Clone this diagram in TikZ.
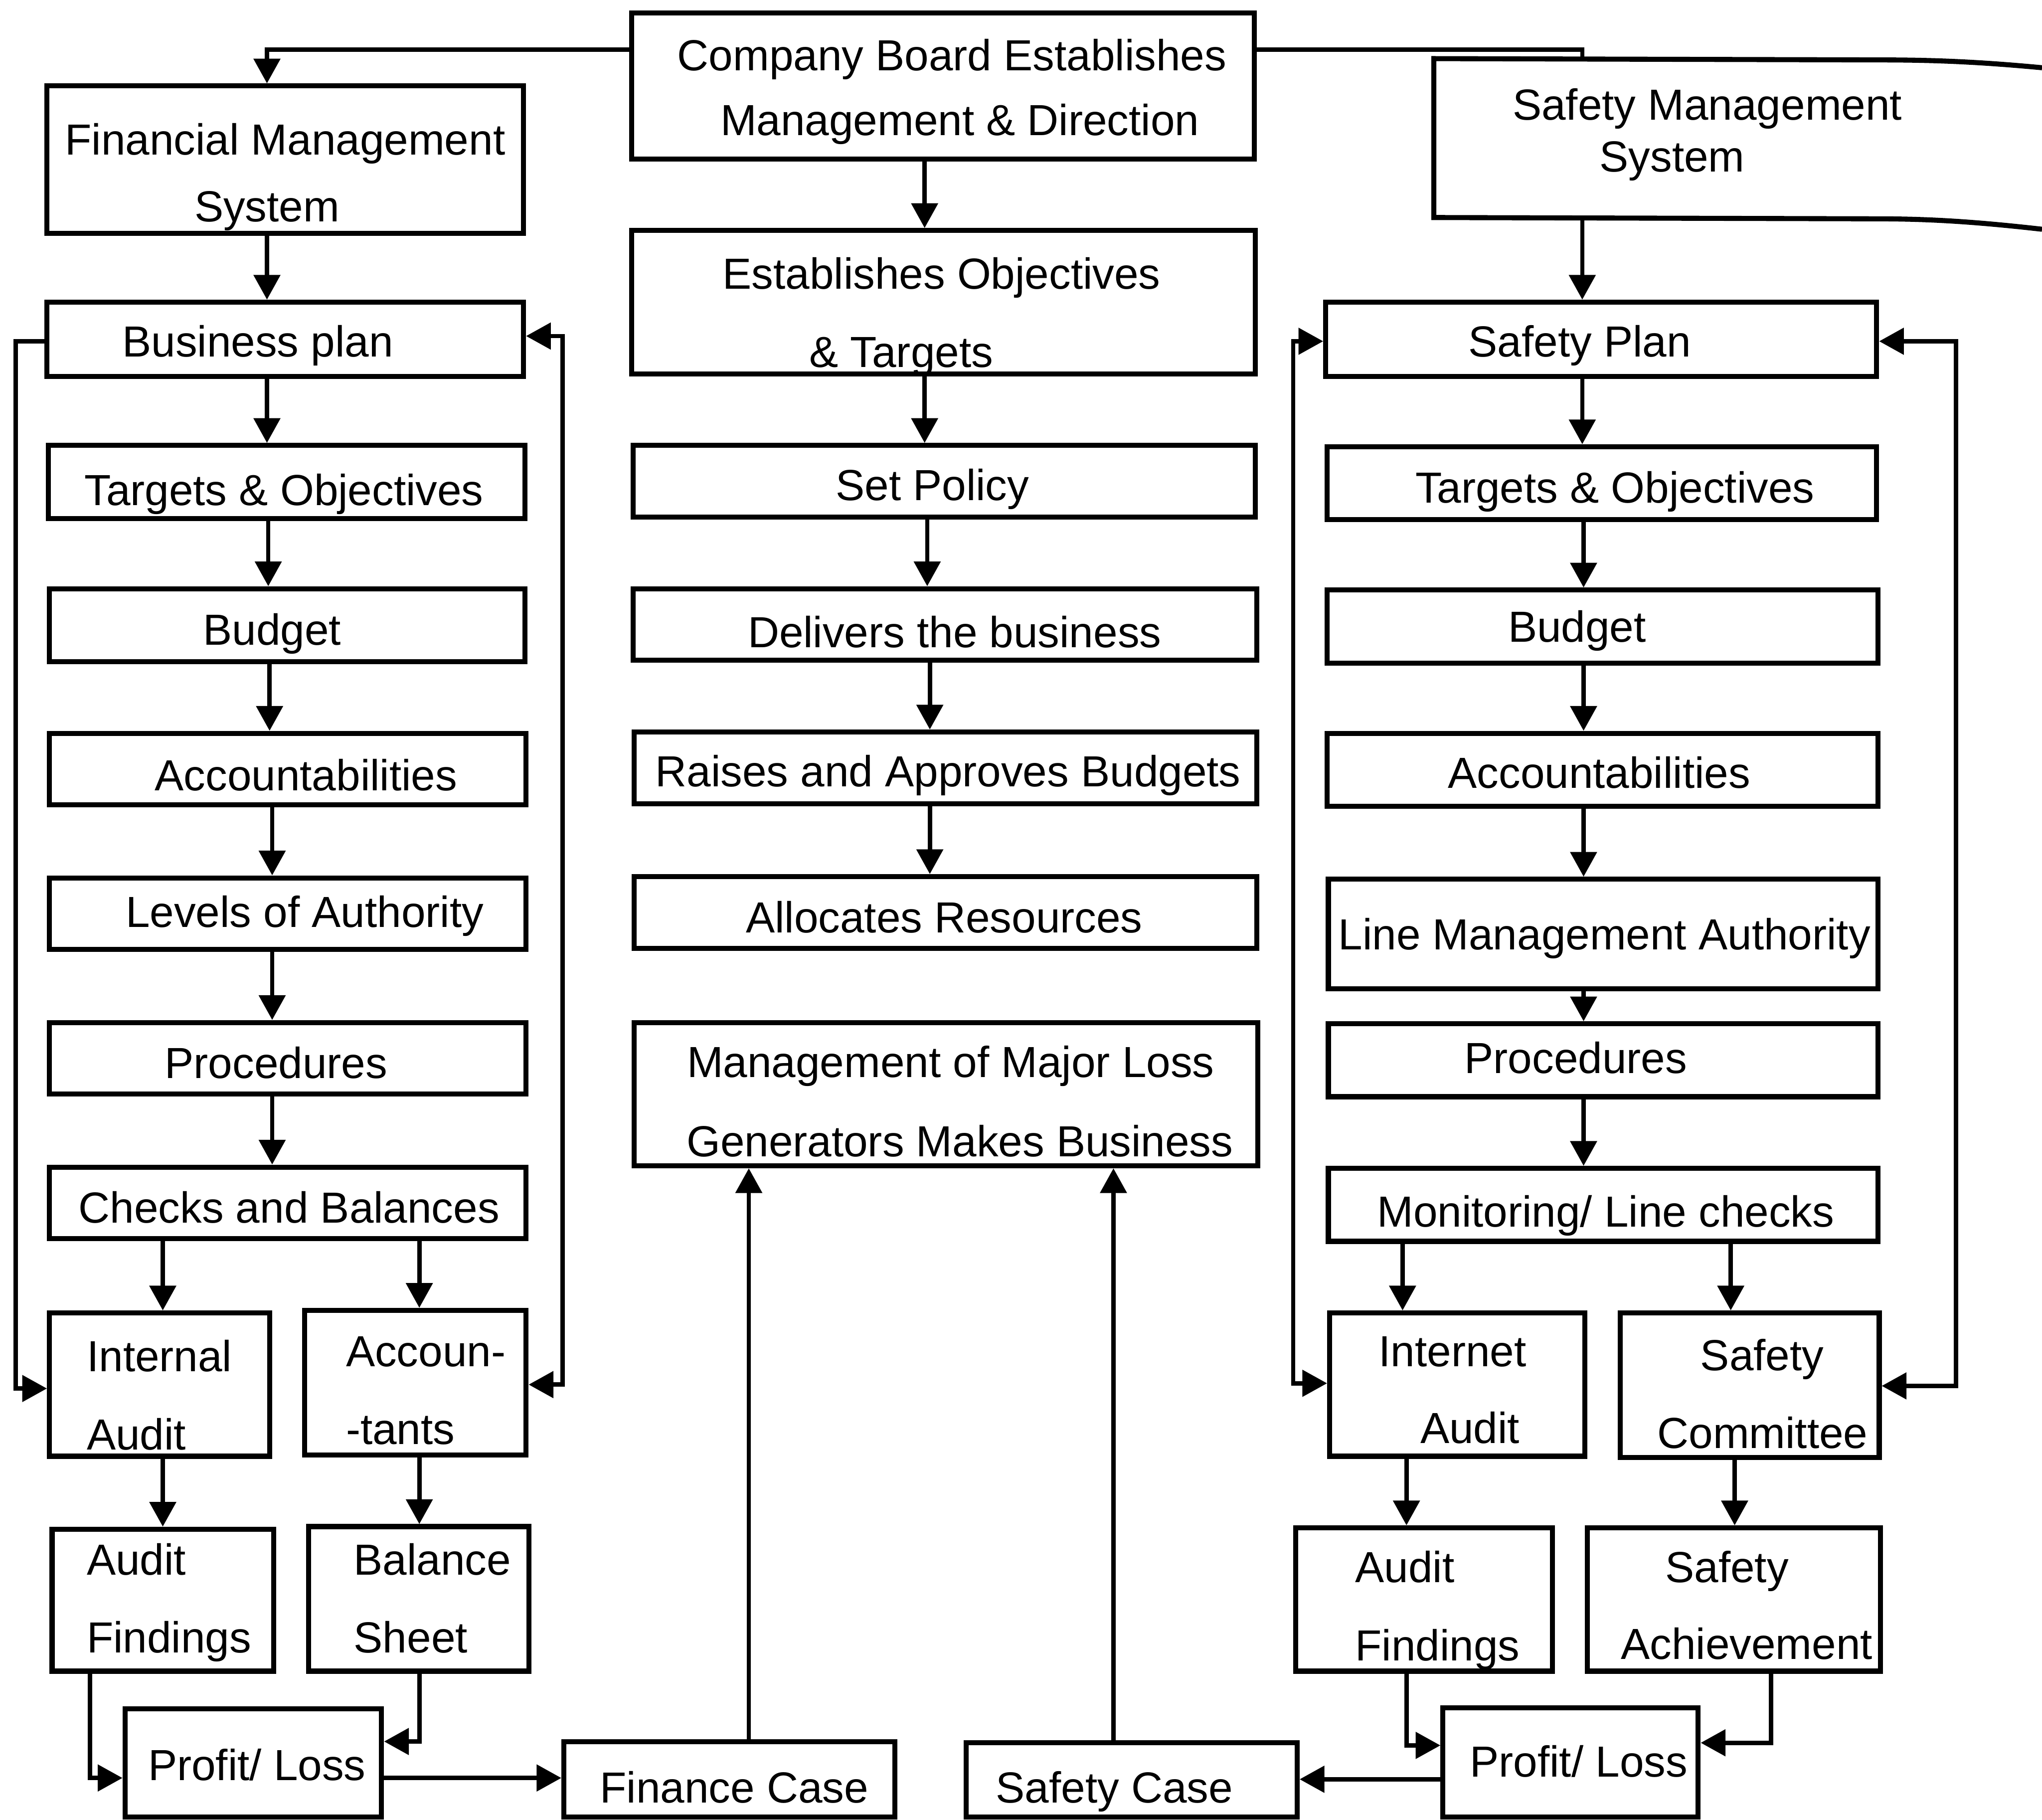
\documentclass[tikz,border=0pt]{standalone}
\usepackage{fontspec}
\setmainfont{Liberation Sans}
\usetikzlibrary{arrows.meta,fit}

\tikzset{
  boxst/.style={draw, line width=1.1pt, inner sep=0pt, fit={#1}},
  txt/.style={inner sep=0pt, anchor=base, font=\fontsize{9.5}{11}\selectfont},
  txtl/.style={txt, anchor=base west},
  link/.style={line width=0.95pt},
  tip/.style={Triangle[length=0.19cm,width=0.2cm]},
  arr/.style={link, -{Triangle[length=0.19cm,width=0.2cm]}},
  dbl/.style={link, {Triangle[length=0.19cm,width=0.2cm]}-{Triangle[length=0.19cm,width=0.2cm]}},
}

% box from (x1,y1) to (x2,y2)
\newcommand{\mkbox}[5]{\node[boxst={(#2,#3) (#4,#5)}] (#1) {};}
% centred text: name, centre x, cap-centre y, text
\newcommand{\ctext}[4]{\node[txt] (#1) at (#2,#3+12) {#4};}
% left-aligned text: name, left x, cap-centre y, text
\newcommand{\ltext}[4]{\node[txtl] (#1) at (#2,#3+12) {#4};}

\begin{document}
\begin{tikzpicture}[x=0.01cm,y=-0.01cm]
\useasboundingbox[fill=white] (0,0) rectangle (1568,1397);

% ---------- financial column ----------
\mkbox{fms}{36}{66}{402}{179}
\ctext{fms-a}{219}{107}{Financial Management}
\ctext{fms-b}{205}{158}{System}
\mkbox{bp}{36}{232}{402}{289}
\ctext{bp-t}{198}{262}{Business plan}
\mkbox{to}{37}{342}{403}{398}
\ctext{to-t}{218}{376}{Targets \& Objectives}
\mkbox{bud}{38}{452}{403}{508}
\ctext{bud-t}{209}{483}{Budget}
\mkbox{acc}{38}{563}{404}{618}
\ctext{acc-t}{235}{595}{Accountabilities}
\mkbox{loa}{38}{674}{404}{729}
\ctext{loa-t}{234}{700}{Levels of Authority}
\mkbox{proc}{38}{785}{404}{840}
\ctext{proc-t}{212}{816}{Procedures}
\mkbox{cab}{38}{896}{404}{951}
\ctext{cab-t}{222}{927}{Checks and Balances}
\mkbox{ia}{38}{1008}{207}{1118}
\ltext{ia-a}{66}{1041}{Internal}
\ltext{ia-b}{66}{1101}{Audit}
\mkbox{acct}{234}{1006}{404}{1117}
\ltext{acct-a}{265}{1037}{Accoun-}
\ltext{acct-b}{265}{1097}{-tants}
\mkbox{af}{40}{1174}{210}{1283}
\ltext{af-a}{66}{1197}{Audit}
\ltext{af-b}{66}{1257}{Findings}
\mkbox{bs}{237}{1172}{406}{1283}
\ltext{bs-a}{271}{1197}{Balance}
\ltext{bs-b}{271}{1257}{Sheet}
\mkbox{pl}{96}{1312}{293}{1395}
\ltext{pl-t}{113}{1355}{Profit/ Loss}
\mkbox{fc}{433}{1337}{687}{1395}
\ltext{fc-t}{460}{1372}{Finance Case}

% ---------- board column ----------
\mkbox{cb}{485}{10}{963}{122}
\ctext{cb-a}{731}{42}{Company Board Establishes}
\ctext{cb-b}{737}{92}{Management \& Direction}
\mkbox{eo}{485}{177}{964}{287}
\ctext{eo-a}{723}{210}{Establishes Objectives}
\ctext{eo-b}{692}{270}{\& Targets}
\mkbox{setp}{486}{342}{964}{397}
\ctext{setp-t}{716}{372}{Set Policy}
\mkbox{del}{486}{452}{965}{507}
\ctext{del-t}{733}{485}{Delivers the business}
\mkbox{rai}{487}{562}{965}{617}
\ctext{rai-t}{728}{592}{Raises and Approves Budgets}
\mkbox{alc}{487}{673}{965}{728}
\ctext{alc-t}{725}{704}{Allocates Resources}
\mkbox{mml}{487}{785}{966}{895}
\ctext{mml-a}{730}{815}{Management of Major Loss}
\ctext{mml-b}{737}{876}{Generators Makes Business}
\mkbox{sc}{742}{1338}{996}{1395}
\ltext{sc-t}{764}{1372}{Safety Case}

% ---------- safety column ----------
\draw[line width=1.1pt] (1568,52) .. controls (1515,47) and (1480,46) .. (1441,46)
  -- (1101,45) -- (1101,167) -- (1441,168)
  .. controls (1480,168) and (1515,170) .. (1568,176);
\coordinate (smstop) at (1215,45);
\coordinate (smsbot) at (1215,167);
\ctext{sms-a}{1311}{80}{Safety Management}
\ctext{sms-b}{1284}{120}{System}
\mkbox{sp}{1018}{232}{1441}{289}
\ctext{sp-t}{1213}{262}{Safety Plan}
\mkbox{tor}{1019}{343}{1441}{399}
\ctext{tor-t}{1240}{374}{Targets \& Objectives}
\mkbox{budr}{1019}{453}{1442}{509}
\ctext{budr-t}{1211}{481}{Budget}
\mkbox{accr}{1019}{563}{1442}{619}
\ctext{accr-t}{1228}{593}{Accountabilities}
\mkbox{lma}{1020}{675}{1442}{759}
\ctext{lma-t}{1232}{717}{Line Management Authority}
\mkbox{procr}{1020}{786}{1442}{842}
\ctext{procr-t}{1210}{812}{Procedures}
\mkbox{mon}{1020}{897}{1442}{953}
\ctext{mon-t}{1233}{930}{Monitoring/ Line checks}
\mkbox{iad}{1021}{1008}{1217}{1118}
\ltext{iad-a}{1058}{1037}{Internet}
\ltext{iad-b}{1090}{1096}{Audit}
\mkbox{scm}{1244}{1008}{1443}{1119}
\ltext{scm-a}{1305}{1040}{Safety}
\ltext{scm-b}{1272}{1100}{Committee}
\mkbox{afr}{995}{1173}{1192}{1283}
\ltext{afr-a}{1040}{1203}{Audit}
\ltext{afr-b}{1040}{1263}{Findings}
\mkbox{sa}{1219}{1173}{1444}{1283}
\ltext{sa-a}{1278}{1203}{Safety}
\ltext{sa-b}{1244}{1262}{Achievement}
\mkbox{plr}{1108}{1311}{1304}{1395}
\ltext{plr-t}{1128}{1352}{Profit/ Loss}

% ---------- connectors from the board ----------
\draw[arr] (cb.west |- 0,38) -| (205,0 |- fms.north);
\draw[link] (cb.east |- 0,38) -| (smstop);
\draw[arr] (smsbot) -- (smsbot |- sp.north);
\draw[arr] (710,0 |- cb.south) -- (710,0 |- eo.north);

% ---------- financial chain ----------
\draw[arr] (205,0 |- fms.south) -- (205,0 |- bp.north);
\draw[arr] (205,0 |- bp.south) -- (205,0 |- to.north);
\draw[arr] (206,0 |- to.south) -- (206,0 |- bud.north);
\draw[arr] (207,0 |- bud.south) -- (207,0 |- acc.north);
\draw[arr] (209,0 |- acc.south) -- (209,0 |- loa.north);
\draw[arr] (209,0 |- loa.south) -- (209,0 |- proc.north);
\draw[arr] (209,0 |- proc.south) -- (209,0 |- cab.north);
\draw[arr] (125,0 |- cab.south) -- (125,0 |- ia.north);
\draw[arr] (322,0 |- cab.south) -- (322,0 |- acct.north);
\draw[arr] (125,0 |- ia.south) -- (125,0 |- af.north);
\draw[arr] (322,0 |- acct.south) -- (322,0 |- bs.north);
\draw[arr] (69,0 |- af.south) |- (pl.west |- 0,1365);
\draw[arr] (322,0 |- bs.south) |- (pl.east |- 0,1337);
\draw[arr] (pl.east |- 0,1365) -- (fc.west |- 0,1365);
\draw[arr] (bp.west |- 0,262) -- (12,262) |- (ia.west |- 0,1066);
\draw[dbl] (bp.east |- 0,258) -- (432,258) |- (acct.east |- 0,1063);

% ---------- board chain ----------
\draw[arr] (710,0 |- eo.south) -- (710,0 |- setp.north);
\draw[arr] (712,0 |- setp.south) -- (712,0 |- del.north);
\draw[arr] (714,0 |- del.south) -- (714,0 |- rai.north);
\draw[arr] (714,0 |- rai.south) -- (714,0 |- alc.north);
\draw[arr] (575,0 |- fc.north) -- (575,0 |- mml.south);
\draw[arr] (855,0 |- sc.north) -- (855,0 |- mml.south);

% ---------- safety chain ----------
\draw[arr] (1215,0 |- sp.south) -- (1215,0 |- tor.north);
\draw[arr] (1216,0 |- tor.south) -- (1216,0 |- budr.north);
\draw[arr] (1216,0 |- budr.south) -- (1216,0 |- accr.north);
\draw[arr] (1216,0 |- accr.south) -- (1216,0 |- lma.north);
\draw[arr] (1216,0 |- lma.south) -- (1216,0 |- procr.north);
\draw[arr] (1216,0 |- procr.south) -- (1216,0 |- mon.north);
\draw[arr] (1077,0 |- mon.south) -- (1077,0 |- iad.north);
\draw[arr] (1329,0 |- mon.south) -- (1329,0 |- scm.north);
\draw[arr] (1080,0 |- iad.south) -- (1080,0 |- afr.north);
\draw[arr] (1332,0 |- scm.south) -- (1332,0 |- sa.north);
\draw[arr] (1080,0 |- afr.south) |- (plr.west |- 0,1340);
\draw[arr] (1360,0 |- sa.south) |- (plr.east |- 0,1338);
\draw[arr] (plr.west |- 0,1366) -- (sc.east |- 0,1366);
\draw[dbl] (sp.west |- 0,262) -- (993,262) |- (iad.west |- 0,1062);
\draw[dbl] (sp.east |- 0,262) -- (1502,262) |- (scm.east |- 0,1064);
\end{tikzpicture}
\end{document}
